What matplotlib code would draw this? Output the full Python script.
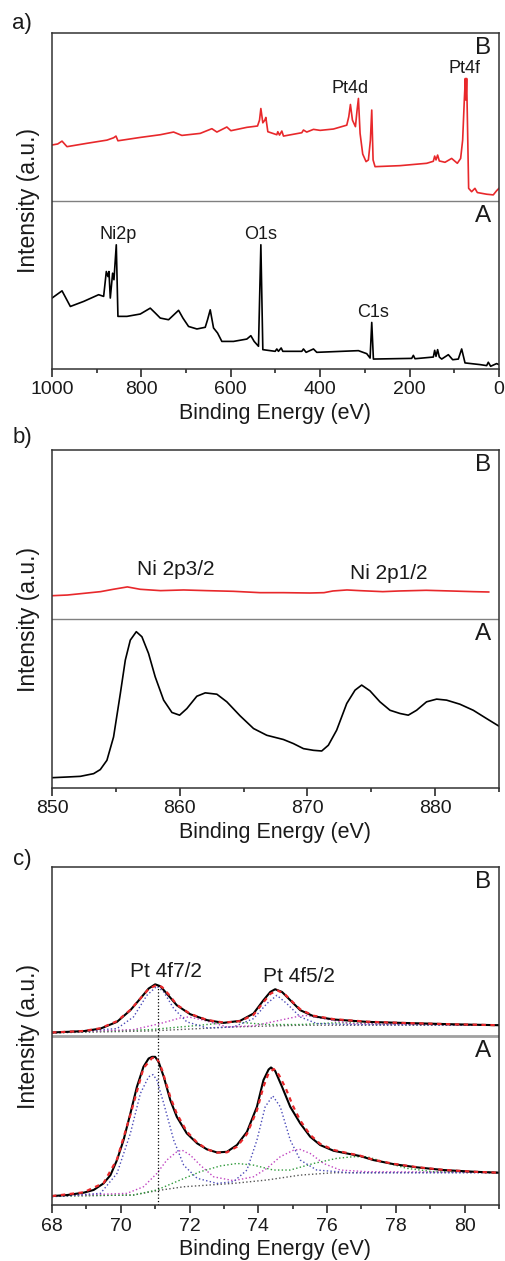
import numpy as np
import matplotlib
matplotlib.use("Agg")
import matplotlib.pyplot as plt
from matplotlib.ticker import MultipleLocator

plt.rcParams['font.family'] = ['Liberation Sans', 'DejaVu Sans']

# ---- a) survey spectra ----
sur_E_A = [1000, 977.6, 959.0, 929.2, 895.7, 884.5, 878.5, 874.8, 872.6, 869.6, 864.4, 861.4,
           856.2, 852.5, 832.3, 802.5, 780.2, 769.0, 757.8, 739.2, 716.8, 707.1, 694.5, 675.8,
           657.2, 652.0, 646.0, 638.6, 629.6, 620.0, 593.9, 564.1, 555.1, 547.7, 538.0, 532.7,
           528.3, 500.7, 497.0, 493.3, 487.3, 483.6, 441.1, 437.4, 431.4, 415.0, 407.6, 314.4,
           295.8, 288.3, 284.6, 280.9, 195.2, 191.5, 187.8, 146.8, 143.8, 140.8, 137.2, 133.4,
           128.1, 113.2, 103.5, 90.9, 83.4, 75.9, 42.4, 27.5, 23.8, 18.6, 5.2, 0.0]
sur_I_A = [0.422, 0.465, 0.372, 0.402, 0.442, 0.432, 0.580, 0.550, 0.580, 0.422, 0.570, 0.531,
           0.739, 0.313, 0.313, 0.327, 0.362, 0.333, 0.303, 0.293, 0.349, 0.303, 0.253, 0.238,
           0.248, 0.293, 0.352, 0.244, 0.214, 0.164, 0.164, 0.178, 0.198, 0.164, 0.135, 0.739,
           0.115, 0.105, 0.119, 0.105, 0.125, 0.105, 0.105, 0.119, 0.099, 0.119, 0.099, 0.109,
           0.091, 0.065, 0.277, 0.059, 0.063, 0.081, 0.061, 0.071, 0.111, 0.075, 0.115, 0.071,
           0.059, 0.085, 0.055, 0.059, 0.119, 0.036, 0.026, 0.020, 0.040, 0.016, 0.032, 0.026]
sur_E_B = [1000, 987.3, 977.6, 966.5, 921.8, 877.0, 862.1, 856.9, 852.5, 802.5, 757.8, 728.0,
           709.4, 668.4, 642.3, 631.1, 608.8, 599.8, 564.1, 540.2, 535.7, 532.7, 528.3, 523.8,
           521.6, 517.1, 497.0, 494.8, 491.0, 485.8, 482.1, 441.1, 437.4, 430.0, 415.0, 400.1,
           370.3, 340.5, 336.0, 332.3, 327.8, 321.1, 317.4, 314.4, 310.7, 304.8, 297.3, 292.1,
           287.6, 284.6, 281.6, 277.2, 221.3, 161.7, 146.8, 143.8, 140.8, 137.2, 133.4, 120.7,
           105.8, 93.1, 85.7, 81.2, 77.5, 75.2, 73.8, 72.3, 70.0, 67.8, 61.1, 53.7, 48.4, 27.5,
           12.7, 5.2, 0.0]
sur_I_B = [0.333, 0.339, 0.356, 0.323, 0.343, 0.362, 0.376, 0.386, 0.358, 0.378, 0.394, 0.410,
           0.390, 0.402, 0.430, 0.410, 0.440, 0.418, 0.438, 0.446, 0.481, 0.550, 0.465, 0.481,
           0.497, 0.412, 0.394, 0.412, 0.392, 0.416, 0.386, 0.406, 0.422, 0.410, 0.426, 0.420,
           0.428, 0.451, 0.501, 0.574, 0.481, 0.442, 0.541, 0.610, 0.402, 0.279, 0.234, 0.244,
           0.362, 0.541, 0.244, 0.204, 0.210, 0.224, 0.236, 0.267, 0.244, 0.273, 0.238, 0.230,
           0.253, 0.224, 0.253, 0.362, 0.600, 0.729, 0.600, 0.729, 0.402, 0.075, 0.055, 0.075,
           0.050, 0.040, 0.036, 0.061, 0.075]
sur_labels = [("Pt4d", 333, 1.669), ("Pt4f", 77.5, 1.788), ("Ni2p", 853, 0.798),
              ("O1s", 534, 0.798), ("C1s", 281, 0.337)]

# ---- b) Ni 2p ----
ni_E_A = [850.00, 851.17, 852.22, 853.26, 853.78, 854.30, 854.82, 855.35, 855.74, 856.13, 856.60,
          857.04, 857.56, 858.08, 858.74, 859.39, 859.99, 860.56, 861.34, 862.00, 862.91, 863.69,
          864.73, 865.78, 866.82, 868.12, 868.90, 869.69, 870.47, 871.12, 871.64, 872.29, 873.08,
          873.73, 874.25, 874.90, 875.68, 876.47, 877.25, 877.90, 878.55, 879.33, 880.12, 880.90,
          881.94, 882.99, 884.03, 885.00]
ni_I_A = [0.061, 0.065, 0.069, 0.085, 0.109, 0.164, 0.302, 0.559, 0.757, 0.875, 0.925,
          0.895, 0.796, 0.658, 0.520, 0.447, 0.431, 0.470, 0.543, 0.563, 0.555, 0.510,
          0.427, 0.352, 0.312, 0.287, 0.263, 0.233, 0.223, 0.219, 0.253, 0.342, 0.500,
          0.579, 0.609, 0.575, 0.510, 0.460, 0.441, 0.431, 0.460, 0.510, 0.526, 0.520,
          0.496, 0.460, 0.411, 0.366]
ni_E_B = [850.0, 851.2, 852.5, 853.8, 854.8, 855.9, 856.9, 858.5, 860.3, 862.1, 864.2, 866.3,
          868.1, 870.2, 871.3, 872.0, 873.1, 874.1, 875.9, 877.2, 879.3, 881.2, 883.0, 884.2]
ni_I_B = [0.138, 0.142, 0.152, 0.162, 0.176, 0.190, 0.176, 0.168, 0.172, 0.168, 0.164, 0.156,
          0.156, 0.154, 0.156, 0.166, 0.172, 0.168, 0.162, 0.166, 0.170, 0.166, 0.162, 0.160]
ni_labels = [("Ni 2p3/2", 859.7, 1.296), ("Ni 2p1/2", 876.4, 1.27)]

# ---- c) Pt 4f ----
pt_E_A = [68.00, 68.44, 68.92, 69.21, 69.50, 69.70, 69.89, 70.08, 70.28, 70.47, 70.66, 70.81,
          70.91, 71.00, 71.10, 71.25, 71.44, 71.63, 71.92, 72.22, 72.51, 72.80, 73.09, 73.38,
          73.67, 73.96, 74.15, 74.30, 74.37, 74.49, 74.69, 74.93, 75.22, 75.51, 75.80, 76.19,
          76.58, 76.96, 77.35, 77.93, 78.61, 79.39, 80.26, 81.00]
pt_I_A = [0.053, 0.059, 0.073, 0.089, 0.128, 0.177, 0.266, 0.384, 0.542, 0.700, 0.818, 0.867,
          0.877, 0.877, 0.847, 0.759, 0.621, 0.522, 0.424, 0.365, 0.329, 0.311, 0.315, 0.355,
          0.433, 0.581, 0.739, 0.802, 0.814, 0.794, 0.700, 0.581, 0.483, 0.404, 0.355, 0.321,
          0.305, 0.290, 0.266, 0.242, 0.223, 0.207, 0.197, 0.191]
fit_E_A = [68.00, 68.92, 69.50, 69.89, 70.28, 70.66, 70.91, 71.05, 71.20, 71.44, 71.63, 71.92,
           72.22, 72.51, 72.80, 73.09, 73.38, 73.67, 73.96, 74.15, 74.30, 74.45, 74.60, 74.80,
           75.00, 75.22, 75.51, 75.80, 76.19, 76.58, 76.96, 77.35, 77.93, 78.61, 79.39, 80.26, 81.00]
fit_I_A = [0.053, 0.075, 0.130, 0.270, 0.535, 0.810, 0.870, 0.872, 0.800, 0.640, 0.540, 0.435,
           0.370, 0.330, 0.310, 0.312, 0.345, 0.420, 0.560, 0.700, 0.780, 0.805, 0.770, 0.690,
           0.590, 0.500, 0.415, 0.362, 0.326, 0.308, 0.292, 0.268, 0.244, 0.224, 0.208, 0.197, 0.191]
blue_E_A = [68.00, 69.41, 69.89, 70.28, 70.57, 70.81, 70.94, 71.05, 71.25, 71.54, 71.83, 72.22,
            72.80, 73.28, 73.67, 73.96, 74.20, 74.42, 74.64, 74.93, 75.22, 75.70, 76.67, 81.00]
blue_I_A = [0.049, 0.069, 0.187, 0.424, 0.660, 0.759, 0.772, 0.739, 0.601, 0.384, 0.236, 0.158,
            0.128, 0.138, 0.207, 0.384, 0.581, 0.646, 0.581, 0.384, 0.266, 0.207, 0.191, 0.191]
mag_E_A = [68.00, 70.18, 70.66, 71.05, 71.34, 71.63, 71.78, 72.02, 72.31, 72.70, 73.28, 73.86,
           74.25, 74.64, 75.03, 75.22, 75.51, 75.90, 76.38, 77.16, 81.00]
mag_I_A = [0.053, 0.069, 0.108, 0.187, 0.266, 0.315, 0.325, 0.296, 0.236, 0.167, 0.144, 0.167,
           0.217, 0.286, 0.325, 0.329, 0.305, 0.246, 0.207, 0.197, 0.193]
grn_E_A = [68.00, 70.37, 71.05, 71.73, 72.31, 72.89, 73.38, 73.86, 74.44, 74.93, 75.61, 76.28,
           76.77, 77.16, 77.64, 78.32, 79.09, 81.00]
grn_I_A = [0.053, 0.059, 0.089, 0.148, 0.197, 0.231, 0.246, 0.236, 0.207, 0.207, 0.246, 0.276,
           0.286, 0.286, 0.256, 0.217, 0.197, 0.193]
bg_E_A = [68.00, 70.37, 71.05, 71.83, 73.28, 74.25, 75.22, 76.19, 81.00]
bg_I_A = [0.053, 0.059, 0.085, 0.108, 0.128, 0.148, 0.177, 0.191, 0.193]

pt_E_B = [68.00, 68.92, 69.41, 69.89, 70.28, 70.57, 70.81, 71.00, 71.15, 71.34, 71.63, 72.02,
          72.51, 72.99, 73.47, 73.86, 74.15, 74.35, 74.49, 74.69, 74.93, 75.22, 75.61, 76.19,
          77.16, 78.13, 79.58, 81.00]
pt_I_B = [0.021, 0.029, 0.044, 0.084, 0.153, 0.222, 0.281, 0.306, 0.295, 0.251, 0.182, 0.129,
          0.094, 0.078, 0.090, 0.133, 0.212, 0.261, 0.277, 0.261, 0.212, 0.153, 0.117, 0.098,
          0.084, 0.078, 0.070, 0.064]
fit_E_B = [68.00, 68.92, 69.41, 69.89, 70.28, 70.57, 70.81, 71.05, 71.20, 71.40, 71.63, 72.02,
           72.51, 72.99, 73.47, 73.86, 74.15, 74.35, 74.55, 74.75, 74.93, 75.22, 75.61, 76.19,
           77.16, 78.13, 79.58, 81.00]
fit_I_B = [0.021, 0.030, 0.046, 0.088, 0.155, 0.222, 0.278, 0.303, 0.290, 0.245, 0.185, 0.131,
           0.095, 0.080, 0.088, 0.125, 0.200, 0.250, 0.270, 0.252, 0.215, 0.158, 0.120, 0.100,
           0.085, 0.078, 0.070, 0.064]
blue_E_B = [68.00, 69.89, 70.37, 70.76, 71.05, 71.25, 71.54, 71.92, 72.51, 73.28, 73.86, 74.25,
            74.54, 74.83, 75.22, 75.70, 76.67, 81.00]
blue_I_B = [0.019, 0.044, 0.113, 0.241, 0.295, 0.261, 0.163, 0.084, 0.048, 0.054, 0.103, 0.192,
            0.241, 0.192, 0.113, 0.074, 0.068, 0.064]
mag_E_B = [68.00, 70.37, 71.15, 71.73, 71.97, 72.41, 73.09, 73.86, 74.64, 75.22, 75.41, 75.90,
           76.67, 81.00]
mag_I_B = [0.019, 0.038, 0.074, 0.107, 0.113, 0.094, 0.054, 0.060, 0.094, 0.119, 0.121, 0.103,
           0.074, 0.064]
grn_E_B = [68.00, 70.86, 72.31, 73.28, 74.25, 75.22, 76.19, 76.67, 77.64, 81.00]
grn_I_B = [0.019, 0.038, 0.064, 0.084, 0.068, 0.068, 0.078, 0.078, 0.070, 0.064]
bg_E_B = [68.00, 70.86, 73.28, 75.22, 81.00]
bg_I_B = [0.019, 0.030, 0.054, 0.064, 0.064]
pt_line = 71.09
pt_labels = [("Pt 4f7/2", 71.31, 1.383), ("Pt 4f5/2", 75.17, 1.35)]

offset = 1.0   # stacking offset of spectrum B
red = '#e8282b'
ink = '#1a1a1a'

fig = plt.figure(figsize=(5.05, 12.61), dpi=100)
axa = fig.add_axes([0.103, 0.7074, 0.885, 0.2665])
axb = fig.add_axes([0.103, 0.3751, 0.885, 0.268])
axc = fig.add_axes([0.103, 0.0444, 0.885, 0.268])

def style(ax, xlim, major, minor, sep_lw=1.0, sep_c='#808080'):
    ax.set_xlim(*xlim)
    ax.set_ylim(0, 2)
    ax.set_yticks([])
    ax.xaxis.set_major_locator(MultipleLocator(major))
    ax.xaxis.set_minor_locator(MultipleLocator(minor))
    ax.tick_params(axis='x', which='major', direction='out', length=6, width=1.1,
                   labelsize=14, pad=3, colors=ink)
    ax.tick_params(axis='x', which='minor', direction='out', length=3, width=1.1,
                   colors=ink)
    for s in ax.spines.values():
        s.set_linewidth(1.1)
        s.set_color('#333333')
    ax.axhline(offset, color=sep_c, lw=sep_lw, zorder=1)
    ax.set_xlabel('Binding Energy (eV)', fontsize=15.5, labelpad=3, color=ink)
    ax.set_ylabel('Intensity (a.u.)', fontsize=16.5, labelpad=9, color=ink)
    ax.text(0.965, 0.955, 'B', transform=ax.transAxes, fontsize=17.5, ha='center',
            va='center', color=ink)
    ax.text(0.965, 0.455, 'A', transform=ax.transAxes, fontsize=17.5, ha='center',
            va='center', color=ink)

# a)
axa.plot(sur_E_A, sur_I_A, color='black', lw=1.2)
axa.plot(sur_E_B, np.array(sur_I_B) + offset, color=red, lw=1.2)
style(axa, (1000, 0), 200, 100)
for t, x, y in sur_labels:
    axa.text(x, y, t, fontsize=13, ha='center', va='center', color=ink)

# b)
axb.plot(ni_E_A, ni_I_A, color='black', lw=1.2)
axb.plot(ni_E_B, np.array(ni_I_B) + offset, color=red, lw=1.2)
style(axb, (850, 885), 10, 5)
for t, x, y in ni_labels:
    axb.text(x, y, t, fontsize=15, ha='center', va='center', color=ink)

# c)
for E, I, off in [(bg_E_A, bg_I_A, 0), (bg_E_B, bg_I_B, offset)]:
    axc.plot(E, np.array(I) + off, color='#555555', lw=1.0, ls=':')
for E, I, off in [(grn_E_A, grn_I_A, 0), (grn_E_B, grn_I_B, offset)]:
    axc.plot(E, np.array(I) + off, color='#2e9a3a', lw=1.0, ls=':')
for E, I, off in [(mag_E_A, mag_I_A, 0), (mag_E_B, mag_I_B, offset)]:
    axc.plot(E, np.array(I) + off, color='#c043c0', lw=1.0, ls=':')
for E, I, off in [(blue_E_A, blue_I_A, 0), (blue_E_B, blue_I_B, offset)]:
    axc.plot(E, np.array(I) + off, color='#4a4ab8', lw=1.0, ls=':')
axc.plot(pt_E_A, pt_I_A, color='black', lw=1.5)
axc.plot(pt_E_B, np.array(pt_I_B) + offset, color='black', lw=1.5)
axc.plot(fit_E_A, fit_I_A, color=red, lw=1.6, ls=(0, (2, 2)))
axc.plot(fit_E_B, np.array(fit_I_B) + offset, color=red, lw=1.6, ls=(0, (2, 2)))
axc.plot([pt_line, pt_line], [0, pt_I_B[7] + offset], color='black', lw=0.9, ls=':')
style(axc, (68, 81), 2, 1, sep_lw=2.0, sep_c='#a0a0a0')
for t, x, y in pt_labels:
    axc.text(x, y, t, fontsize=15, ha='center', va='center', color=ink)

for lab, y in [('a)', 1 - 24 / 1261), ('b)', 1 - 437 / 1261), ('c)', 1 - 860 / 1261)]:
    fig.text(22 / 505, y, lab, fontsize=16, ha='center', va='center', color=ink)

fig.savefig('out.png', dpi=100)
